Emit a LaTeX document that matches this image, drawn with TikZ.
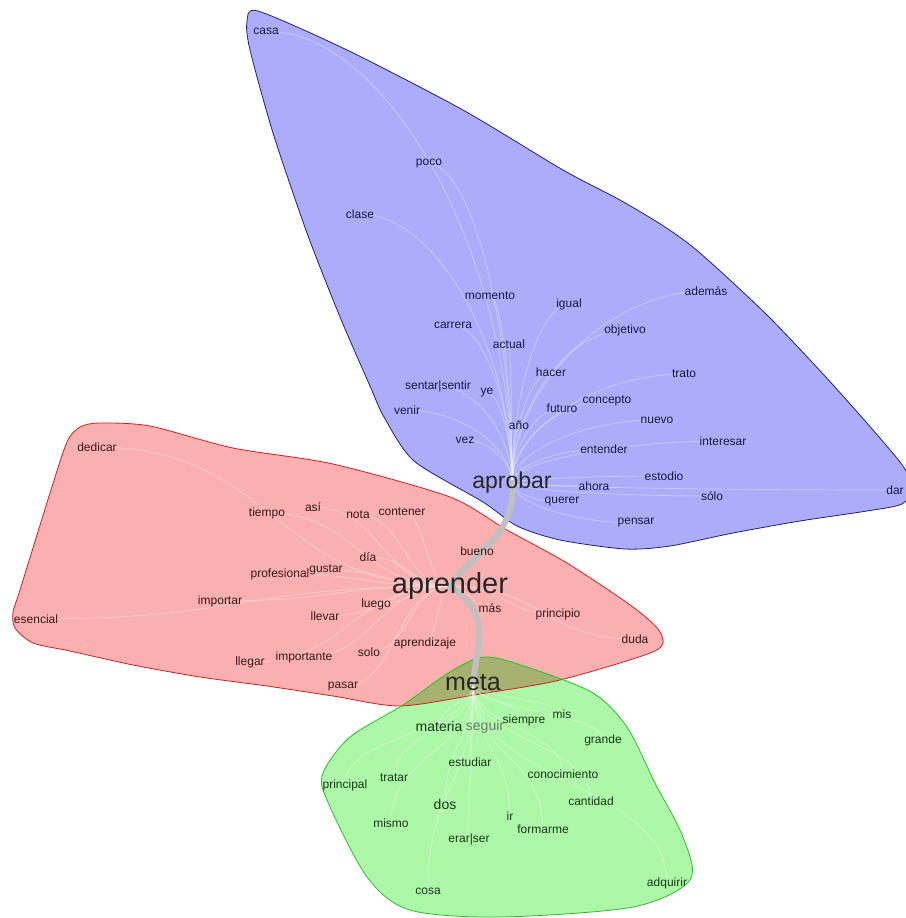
\documentclass[tikz,border=0pt]{standalone}
\usepackage{fontspec}
\setmainfont{Liberation Sans}
\usetikzlibrary{calc,backgrounds}
\definecolor{bfill}{RGB}{172,172,250}
\definecolor{bline}{RGB}{30,30,130}
\definecolor{rfill}{RGB}{250,176,176}
\definecolor{rline}{RGB}{215,30,30}
\definecolor{gfill}{RGB}{172,248,168}
\definecolor{gline}{RGB}{40,190,40}
\definecolor{ofill}{RGB}{168,178,112}
\definecolor{btext}{RGB}{25,25,70}
\definecolor{rtext}{RGB}{55,25,25}
\definecolor{gtext}{RGB}{25,55,25}
\definecolor{trunkc}{RGB}{192,192,192}
\newcommand\fanB[2]{\draw[fanline] let \p1=(#1.center), \p2=(#2.center) in (\p1) .. controls (\x1,{0.5*\y1+0.5*\y2}) and ({0.5*\x1+0.5*\x2},\y2) .. (\p2);}
\newcommand\fanR[2]{\draw[fanline] let \p1=(#1.center), \p2=(#2.center) in (\p1) .. controls ({0.5*\x1+0.5*\x2},\y1) and ({0.5*\x1+0.5*\x2},\y2) .. (\p2);}
\newcommand\fanG[2]{\draw[fanline] let \p1=(#1.center), \p2=(#2.center) in (\p1) .. controls (\x1,{0.5*\y1+0.5*\y2}) and (\x2,{0.5*\y1+0.5*\y2}) .. (\p2);}
\newcommand\bluehull{plot[smooth cycle,tension=0.45] coordinates {(258,11) (347,50) (463,110) (563,170) (620,200) (665,227) (700,253) (767,315) (834,386) (900,462) (912,488) (902,504) (867,511) (800,521) (733,533) (670,546) (625,549) (560,540) (517,526) (483,502) (414,461) (384,417) (370,386) (340,317) (307,233) (273,133) (250,50) (247,22)}}
\newcommand\redhull{plot[smooth cycle,tension=0.45] coordinates {(100,423) (150,426) (233,448) (333,464) (450,497) (507,530) (567,563) (633,607) (660,632) (655,651) (560,680) (480,694) (400,706) (333,696) (267,686) (200,677) (133,665) (70,651) (33,643) (15,628) (13,612) (20,590) (50,493) (67,442) (80,427)}}
\newcommand\greenhull{plot[smooth cycle,tension=0.5] coordinates {(485,657) (530,668) (593,693) (627,727) (655,783) (683,837) (690,880) (633,907) (500,917) (410,910) (367,877) (327,800) (323,773) (350,737) (403,705) (450,672)}}
\begin{document}
\begin{tikzpicture}[x=1pt,y=-1pt,
  word/.style={inner sep=0pt,font=\fontsize{12}{12}\selectfont},
  wb/.style={word,text=btext},
  wr/.style={word,text=rtext},
  wg/.style={word,text=gtext},
  hub/.style={inner sep=0pt,text=black!85},
  fanline/.style={draw=white,draw opacity=0.38,line width=0.7pt},
  trunk/.style={draw=trunkc,line width=6pt,line cap=round},
  hull/.style={line width=0.8pt}]
\useasboundingbox (0,0) rectangle (905,918);

% ---- blue community ----
\node[wb] (casa) at (266,31) {casa};
\node[wb] (poco) at (429,164) {poco};
\node[wb] (clase) at (360,214) {clase};
\node[wb] (momento) at (490,296) {momento};
\node[wb] (igual) at (569,304) {igual};
\node[wb] (ademas) at (706,291) {además};
\node[wb] (carrera) at (453,325) {carrera};
\node[wb] (objetivo) at (625,330) {objetivo};
\node[wb] (actual) at (509,344) {actual};
\node[wb] (hacer) at (551,372) {hacer};
\node[wb] (trato) at (684,374) {trato};
\node[wb] (sentar) at (438,386) {sentar|sentir};
\node[wb] (ye) at (487,393) {ye};
\node[wb] (venir) at (407,410) {venir};
\node[wb] (futuro) at (562,408) {futuro};
\node[wb] (concepto) at (607,401) {concepto};
\node[wb] (nuevo) at (657,420) {nuevo};
\node[wb] (ano) at (519,425) {año};
\node[wb] (vez) at (465,440) {vez};
\node[wb] (interesar) at (723,441) {interesar};
\node[wb] (entender) at (604,449) {entender};
\node[wb] (estodio) at (664,476) {estodio};
\node[wb] (ahora) at (594,486) {ahora};
\node[wb] (querer) at (562,502) {querer};
\node[wb] (solo) at (712,496) {sólo};
\node[wb] (dar) at (895,490) {dar};
\node[wb] (pensar) at (636,523) {pensar};
\node[hub,font=\fontsize{23}{23}\selectfont] (aprobar) at (512,483) {aprobar};

% ---- red community ----
\node[wr] (dedicar) at (97,447) {dedicar};
\node[wr] (tiempo) at (267,513) {tiempo};
\node[wr] (asi) at (313,507) {así};
\node[wr] (nota) at (358,515) {nota};
\node[wr] (contener) at (402,512) {contener};
\node[wr] (bueno) at (477,551) {bueno};
\node[wr] (dia) at (368,557) {día};
\node[wr] (profesional) at (280,574) {profesional};
\node[wr] (gustar) at (326,570) {gustar};
\node[wr] (importar) at (220,601) {importar};
\node[wr] (luego) at (376,604) {luego};
\node[wr] (mas) at (490,608) {más};
\node[wr] (llevar) at (325,616) {llevar};
\node[wr] (principio) at (558,614) {principio};
\node[wr] (esencial) at (36,619) {esencial};
\node[wr] (duda) at (635,639) {duda};
\node[wr] (aprendizaje) at (425,643) {aprendizaje};
\node[wr] (solob) at (369,652) {solo};
\node[wr] (llegar) at (250,662) {llegar};
\node[wr] (importante) at (304,657) {importante};
\node[wr] (pasar) at (343,687) {pasar};
\node[hub,font=\fontsize{29}{29}\selectfont] (aprender) at (450,586) {aprender};

% ---- green community ----
\node[wg,font=\fontsize{14}{14}\selectfont] (materia) at (439,726) {materia};
\node[wg,font=\fontsize{14}{14}\selectfont,text=gtext!65] (seguir) at (485,727) {seguir};
\node[wg] (siempre) at (524,720) {siempre};
\node[wg] (mis) at (562,714) {mis};
\node[wg] (grande) at (603,740) {grande};
\node[wg] (estudiar) at (470,762) {estudiar};
\node[wg] (conocimiento) at (563,774) {conocimiento};
\node[wg] (principal) at (345,785) {principal};
\node[wg] (tratar) at (394,778) {tratar};
\node[wg] (cantidad) at (591,801) {cantidad};
\node[wg,font=\fontsize{14}{14}\selectfont] (dos) at (445,804) {dos};
\node[wg] (ir) at (510,816) {ir};
\node[wg] (mismo) at (391,823) {mismo};
\node[wg] (formarme) at (543,829) {formarme};
\node[wg] (erarser) at (469,839) {erar|ser};
\node[wg] (cosa) at (428,891) {cosa};
\node[wg] (adquirir) at (667,883) {adquirir};
\node[hub,font=\fontsize{25}{25}\selectfont] (meta) at (473,683) {meta};

\begin{pgfonlayer}{background}
% hull fills
\fill[bfill] \bluehull;
\fill[rfill] \redhull;
\fill[gfill] \greenhull;
\begin{scope}
\clip \redhull;
\fill[ofill] \greenhull;
\end{scope}
% hull borders
\draw[hull,bline] \bluehull;
\draw[hull,rline] \redhull;
\draw[hull,gline] \greenhull;
% fan edges
\foreach \w in {casa,poco,clase,momento,igual,ademas,carrera,objetivo,actual,hacer,trato,sentar,ye,venir,futuro,concepto,nuevo,ano,vez,interesar,entender,estodio,ahora,querer,solo,dar,pensar}{\fanB{aprobar}{\w}}
\foreach \w in {dedicar,tiempo,asi,nota,contener,dia,profesional,gustar,importar,luego,mas,llevar,principio,esencial,duda,aprendizaje,solob,llegar,importante,pasar}{\fanR{aprender}{\w}}
\foreach \w in {materia,seguir,siempre,mis,grande,estudiar,conocimiento,principal,tratar,cantidad,dos,ir,mismo,formarme,erarser,cosa,adquirir}{\fanG{meta}{\w}}
% trunk edges between hubs
\draw[trunk] (aprobar.center) .. controls (516,535) and (478,548) .. (aprender.center);
\draw[trunk] (aprender.center) .. controls (492,615) and (478,640) .. (meta.center);
\end{pgfonlayer}
\end{tikzpicture}
\end{document}
